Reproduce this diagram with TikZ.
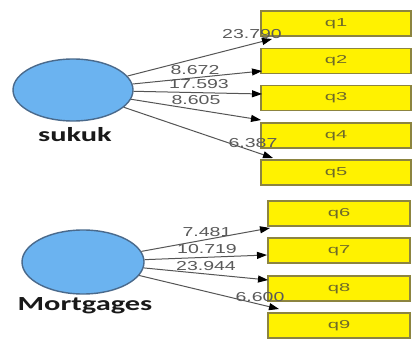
\documentclass[tikz,border=0pt]{standalone}
\usepackage{fontspec}
\setmainfont{Liberation Sans}
\newfontfamily\calib{Carlito}
\usetikzlibrary{shapes.geometric,arrows.meta}
\definecolor{latfill}{HTML}{6BB3F0}
\definecolor{latedge}{HTML}{4A6A8C}
\definecolor{boxedge}{HTML}{8C8440}
\definecolor{boxtext}{HTML}{6E6A2A}
\definecolor{linegray}{HTML}{555555}
\definecolor{lblgray}{HTML}{5A5A5A}
\tikzset{
  latent/.style={ellipse, draw=latedge, line width=1.4pt, fill=latfill, inner sep=0pt},
  indbox/.style={draw=boxedge, line width=1.3pt, fill=yellow, minimum height=25pt, inner sep=0pt},
  boxlbl/.style={font=\fontsize{11.5}{12}\selectfont, text=boxtext, xscale=1.75, inner sep=0pt},
  latlbl/.style={font=\calib\bfseries\fontsize{20}{22}\selectfont, text=black!90, xscale=1.52},
  path/.style={draw=linegray, line width=1pt, -{Triangle[length=10pt,width=7pt,black]}},
  coef/.style={font=\fontsize{13}{14}\selectfont, text=lblgray, xscale=1.5, inner sep=0pt},
}
\begin{document}
\begin{tikzpicture}[x=1pt,y=-1pt]
\useasboundingbox (0,0) rectangle (414,339);
\fill[white] (0,0) rectangle (414,339);
% latent variables
\node[latent, minimum width=120pt, minimum height=62pt] (sukuk) at (73,90) {};
\node[latent, minimum width=122pt, minimum height=64pt] (mort) at (83,262) {};
\node[latlbl] (sukuklbl) at (75,135) {sukuk};
\node[latlbl] (mortlbl) at (85,306) {Mortgages};
% indicator boxes
\foreach \n/\y in {1/23.5,2/61,3/98,4/135.5,5/172.5}{
  \node[indbox, minimum width=150pt] (q\n) at (336,\y) {};
  \node[boxlbl] (l\n) at (q\n) {q\n};
}
\foreach \n/\y in {6/213.5,7/250.5,8/288.5,9/325.5}{
  \node[indbox, minimum width=142pt] (q\n) at (339,\y) {};
  \node[boxlbl] (l\n) at (q\n) {q\n};
}
% arrow end points
\coordinate (t1) at (272,39);
\coordinate (t2) at (262,71);
\coordinate (t3) at (262,94);
\coordinate (t4) at (261,120);
\coordinate (t5) at (273,158);
\coordinate (t6) at (270,228);
\coordinate (t7) at (267,255);
\coordinate (t8) at (268,280);
\coordinate (t9) at (279,309);
\foreach \i in {1,...,5}{ \draw[path] (sukuk) -- (t\i); }
\foreach \i in {6,...,9}{ \draw[path] (mort) -- (t\i); }
% coefficients
\node[coef] (c1) at (252,34) {23.790};
\node[coef] (c2) at (195,70) {8.672};
\node[coef] (c3) at (199,84) {17.593};
\node[coef] (c4) at (196,100) {8.605};
\node[coef] (c5) at (253,143) {6.387};
\node[coef] (c6) at (207,232) {7.481};
\node[coef] (c7) at (207,249) {10.719};
\node[coef] (c8) at (206,266) {23.944};
\node[coef] (c9) at (260,297) {6.600};
\end{tikzpicture}
\end{document}
